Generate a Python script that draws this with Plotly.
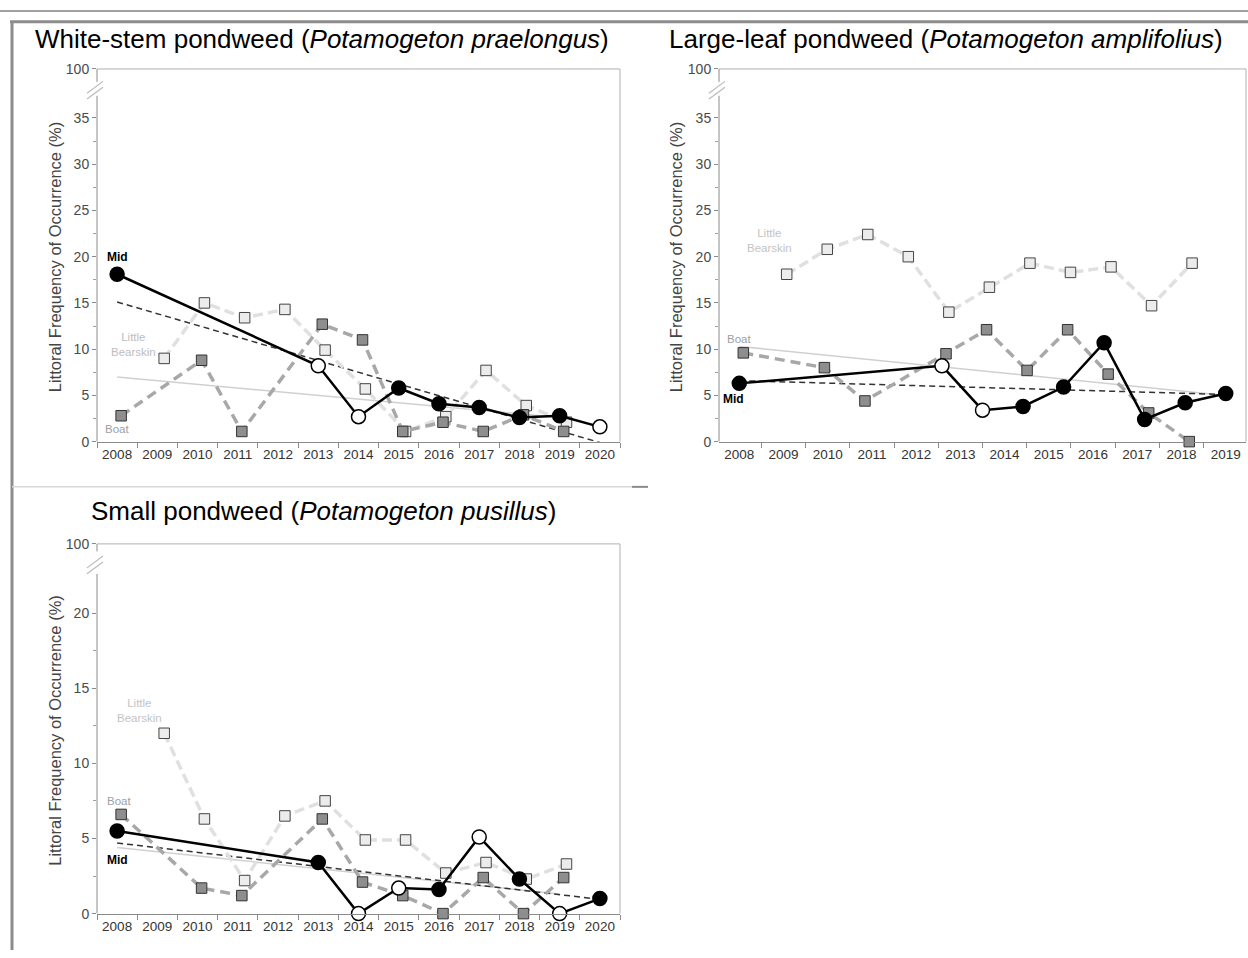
import plotly.graph_objects as go

FIG_W, FIG_H = 1248, 958

# ---------------- data ----------------
# Panel 1: White-stem pondweed
p1_mid_years = [2008, 2013, 2014, 2015, 2016, 2017, 2018, 2019, 2020]
p1_mid_vals = [18.1, 8.2, 2.7, 5.8, 4.1, 3.7, 2.6, 2.8, 1.6]
p1_mid_open = [False, True, True, False, False, False, False, False, True]
p1_boat_years = [2008, 2010, 2011, 2013, 2014, 2015, 2016, 2017, 2018, 2019]
p1_boat_vals = [2.8, 8.8, 1.1, 12.7, 11.0, 1.1, 2.1, 1.1, 2.9, 1.1]
p1_lb_years = [2009, 2010, 2011, 2012, 2013, 2014, 2015, 2016, 2017, 2018, 2019]
p1_lb_vals = [9.0, 15.0, 13.4, 14.3, 9.9, 5.7, 1.1, 2.7, 7.7, 3.9, 2.1]
p1_mid_trend_years = [2008, 2020]
p1_mid_trend_vals = [15.1, -0.1]
p1_lt_trend_years = [2008, 2019]
p1_lt_trend_vals = [7.0, 2.6]

# Panel 2: Large-leaf pondweed
p2_mid_years = [2008, 2013, 2014, 2015, 2016, 2017, 2018, 2019, 2020]
p2_mid_vals = [6.3, 8.2, 3.4, 3.8, 5.9, 10.7, 2.4, 4.2, 5.2]
p2_mid_open = [False, True, True, False, False, False, False, False, False]
p2_boat_years = [2008, 2010, 2011, 2013, 2014, 2015, 2016, 2017, 2018, 2019]
p2_boat_vals = [9.6, 8.0, 4.4, 9.5, 12.1, 7.7, 12.1, 7.3, 3.1, 0.0]
p2_lb_years = [2009, 2010, 2011, 2012, 2013, 2014, 2015, 2016, 2017, 2018, 2019]
p2_lb_vals = [18.1, 20.8, 22.4, 20.0, 14.0, 16.7, 19.3, 18.3, 18.9, 14.7, 19.3]
p2_mid_trend_years = [2008, 2020]
p2_mid_trend_vals = [6.6, 5.1]
p2_lt_trend_years = [2008, 2020]
p2_lt_trend_vals = [10.3, 5.0]

# Panel 3: Small pondweed
p3_mid_years = [2008, 2013, 2014, 2015, 2016, 2017, 2018, 2019, 2020]
p3_mid_vals = [5.5, 3.4, 0.0, 1.7, 1.6, 5.1, 2.3, 0.0, 1.0]
p3_mid_open = [False, False, True, True, False, True, False, True, False]
p3_boat_years = [2008, 2010, 2011, 2013, 2014, 2015, 2016, 2017, 2018, 2019]
p3_boat_vals = [6.6, 1.7, 1.2, 6.3, 2.1, 1.2, 0.0, 2.4, 0.0, 2.4]
p3_lb_years = [2009, 2010, 2011, 2012, 2013, 2014, 2015, 2016, 2017, 2018, 2019]
p3_lb_vals = [12.0, 6.3, 2.2, 6.5, 7.5, 4.9, 4.9, 2.7, 3.4, 2.3, 3.3]
p3_mid_trend_years = [2008, 2020]
p3_mid_trend_vals = [4.7, 0.95]
p3_lt_trend_years = [2008, 2019]
p3_lt_trend_vals = [4.4, 1.3]

# tick labels
labels_13 = [str(y) for y in range(2008, 2021)]   # panels 1 and 3
labels_12 = [str(y) for y in range(2008, 2020)]   # panel 2 (original figure shows 12 labels)

titles = [
    "White-stem pondweed (<i>Potamogeton praelongus</i>)",
    "Large-leaf pondweed (<i>Potamogeton amplifolius</i>)",
    "Small pondweed (<i>Potamogeton pusillus</i>)",
]
ytitle = "Littoral Frequency of Occurrence (%)"

FONT = "Arial, Liberation Sans, sans-serif"

def px(x):
    return x / FIG_W

def py(y):
    return 1 - y / FIG_H

fig = go.Figure()

panels = [
    dict(n="", xdom=(97, 620), ydom=(62, 441), ytop=40.3, ymaxtick=35, brk=38.0,
         xlabels=labels_13, title=titles[0], tcx=322, tcy=32, ytx=55,
         mid=(p1_mid_years, p1_mid_vals, p1_mid_open),
         boat=(p1_boat_years, p1_boat_vals), lb=(p1_lb_years, p1_lb_vals),
         mt=(p1_mid_trend_years, p1_mid_trend_vals), lt=(p1_lt_trend_years, p1_lt_trend_vals),
         ann=[("Mid", 2008.0, 20.0, "black", True), ("Little<br>Bearskin", 2008.4, 10.5, "#bdbdbd", False),
              ("Boat", 2008.0, 1.4, "#a0a0a0", False)]),
    dict(n="2", xdom=(719, 1246), ydom=(62, 441), ytop=40.3, ymaxtick=35, brk=38.0,
         xlabels=labels_12, title=titles[1], tcx=946, tcy=32, ytx=676,
         mid=(p2_mid_years, p2_mid_vals, p2_mid_open),
         boat=(p2_boat_years, p2_boat_vals), lb=(p2_lb_years, p2_lb_vals),
         mt=(p2_mid_trend_years, p2_mid_trend_vals), lt=(p2_lt_trend_years, p2_lt_trend_vals),
         ann=[("Little<br>Bearskin", 2008.75, 21.8, "#c4c4c4", False), ("Boat", 2008.0, 11.1, "#a0a0a0", False),
              ("Mid", 2007.85, 4.6, "black", True)]),
    dict(n="3", xdom=(97, 620), ydom=(545, 921), ytop=24.6, ymaxtick=20, brk=23.2,
         xlabels=labels_13, title=titles[2], tcx=323, tcy=512, ytx=55,
         mid=(p3_mid_years, p3_mid_vals, p3_mid_open),
         boat=(p3_boat_years, p3_boat_vals), lb=(p3_lb_years, p3_lb_vals),
         mt=(p3_mid_trend_years, p3_mid_trend_vals), lt=(p3_lt_trend_years, p3_lt_trend_vals),
         ann=[("Little<br>Bearskin", 2008.55, 13.5, "#c4c4c4", False), ("Boat", 2008.05, 7.5, "#a0a0a0", False),
              ("Mid", 2008.0, 3.6, "black", True)]),
]

BOAT_DX = 0.1
LB_DX = 0.17

shapes = []
annotations = []

for p in panels:
    n = p["n"]
    xa = "x" + n
    ya = "y" + n
    nlab = len(p["xlabels"])
    # label positions spread evenly from 2008 to 2020
    step = 12.0 / (nlab - 1)
    tickvals = [2008 + k * step for k in range(nlab)]
    minor_vals = [2008 + (k + 0.5) * step for k in range(-1, nlab)]

    common = dict(xaxis=xa, yaxis=ya, cliponaxis=False, showlegend=False, hoverinfo="skip")
    # trend lines
    fig.add_trace(go.Scatter(x=p["lt"][0], y=p["lt"][1], mode="lines",
                             line=dict(color="#d0d0d0", width=1.5), **common))
    fig.add_trace(go.Scatter(x=p["mt"][0], y=p["mt"][1], mode="lines",
                             line=dict(color="#333333", width=1.5, dash="6px,4px"), **common))
    # Little Bearskin
    fig.add_trace(go.Scatter(x=[v + LB_DX for v in p["lb"][0]], y=p["lb"][1], mode="lines+markers",
                             line=dict(color="#e0e0e0", width=3.5, dash="10px,5px"),
                             marker=dict(symbol="square", size=10.5, color="#ececec",
                                         line=dict(color="#444444", width=1)), **common))
    # Boat
    fig.add_trace(go.Scatter(x=[v + BOAT_DX for v in p["boat"][0]], y=p["boat"][1], mode="lines+markers",
                             line=dict(color="#a8a8a8", width=3.5, dash="10px,6px"),
                             marker=dict(symbol="square", size=10.5, color="#8e8e8e",
                                         line=dict(color="#333333", width=1)), **common))
    # Mid
    my, mv, mo = p["mid"]
    fig.add_trace(go.Scatter(x=my, y=mv, mode="lines+markers",
                             line=dict(color="black", width=2.5),
                             marker=dict(symbol="circle", size=14,
                                         color=["white" if o else "black" for o in mo],
                                         line=dict(color="black", width=1.5)), **common))

    x0, x1 = p["xdom"]
    yt, yb = p["ydom"]
    yticks = list(range(0, p["ymaxtick"] + 1, 5)) + [p["ytop"]]
    ytext = [str(v) for v in range(0, p["ymaxtick"] + 1, 5)] + ["100"]
    minor_y = [v + 2.5 for v in range(0, p["ymaxtick"], 5)]

    fig.layout["xaxis" + n] = dict(
        domain=[px(x0), px(x1)], anchor=ya, range=[2007.5, 2020.5],
        tickvals=tickvals, ticktext=p["xlabels"], ticks="", ticklen=0,
        showline=True, linecolor="#8a8a8a", linewidth=1, showgrid=False, zeroline=False,
        tickfont=dict(family=FONT, size=13.5, color="#333333"),
        minor=dict(tickvals=minor_vals, ticks="outside", ticklen=5, tickcolor="#8a8a8a", tickwidth=1),
        fixedrange=True,
    )
    fig.layout["yaxis" + n] = dict(
        domain=[py(yb), py(yt)], anchor=xa, range=[0, p["ytop"]],
        tickvals=yticks, ticktext=ytext, ticks="outside", ticklen=4, tickcolor="#8a8a8a",
        showline=False, showgrid=False, zeroline=False,
        tickfont=dict(family=FONT, size=14, color="#4a4a4a"),
        minor=dict(tickvals=minor_y, ticks="outside", ticklen=3, tickcolor="#a0a0a0"),
        fixedrange=True,
    )

    # frame: top and right
    shapes.append(dict(type="line", xref="paper", yref="paper", x0=px(x0), x1=px(x1), y0=py(yt), y1=py(yt),
                       line=dict(color="#b0b0b0", width=1)))
    shapes.append(dict(type="line", xref="paper", yref="paper", x0=px(x1), x1=px(x1), y0=py(yt), y1=py(yb),
                       line=dict(color="#b0b0b0", width=1)))
    # left axis with break
    shapes.append(dict(type="line", xref=xa + " domain", yref=ya, x0=0, x1=0, y0=0, y1=p["brk"] - 0.6,
                       line=dict(color="#8a8a8a", width=1)))
    shapes.append(dict(type="line", xref=xa + " domain", yref=ya, x0=0, x1=0, y0=p["brk"] + 0.9, y1=p["ytop"],
                       line=dict(color="#8a8a8a", width=1)))
    # break marks "//"
    ppu = (yb - yt) / p["ytop"]
    ybrk = yb - p["brk"] * ppu
    for d in (-3, 3):
        shapes.append(dict(type="line", xref="paper", yref="paper",
                           x0=px(x0 - 10), y0=py(ybrk + 6 + d), x1=px(x0 + 6), y1=py(ybrk - 6 + d),
                           line=dict(color="#bbbbbb", width=1.2)))

    # titles
    annotations.append(dict(text=p["title"], xref="paper", yref="paper", x=px(p["tcx"]), y=py(p["tcy"]),
                            xanchor="center", yanchor="middle", showarrow=False,
                            font=dict(family=FONT, size=26, color="black")))
    annotations.append(dict(text=ytitle, xref="paper", yref="paper", x=px(p["ytx"]), y=py((yt + yb) / 2 + 2),
                            xanchor="center", yanchor="middle", textangle=-90, showarrow=False,
                            font=dict(family=FONT, size=16.5, color="#444444")))
    for txt, ax, ay, col, bold in p["ann"]:
        annotations.append(dict(text=("<b>%s</b>" % txt) if bold else txt, xref=xa, yref=ya, x=ax, y=ay,
                                xanchor="center", yanchor="middle", showarrow=False, align="center",
                                font=dict(family=FONT, size=11.5 if not bold else 12, color=col)))

# page decoration lines
shapes += [
    dict(type="line", xref="paper", yref="paper", x0=0, x1=1, y0=py(3), y1=py(3),
         line=dict(color="#a0a0a0", width=2)),
    dict(type="line", xref="paper", yref="paper", x0=px(10), x1=1, y0=py(14), y1=py(14),
         line=dict(color="#8c8c8c", width=3)),
    dict(type="line", xref="paper", yref="paper", x0=px(12), x1=px(12), y0=py(14), y1=0,
         line=dict(color="#8c8c8c", width=3)),
    dict(type="line", xref="paper", yref="paper", x0=px(12), x1=px(632), y0=py(487), y1=py(487),
         line=dict(color="#d8d8d8", width=1.5)),
    dict(type="line", xref="paper", yref="paper", x0=px(632), x1=px(648), y0=py(487), y1=py(487),
         line=dict(color="#8c8c8c", width=2)),
]

fig.update_layout(
    width=FIG_W, height=FIG_H, margin=dict(l=0, r=0, t=0, b=0),
    paper_bgcolor="white", plot_bgcolor="white",
    shapes=shapes, annotations=annotations, showlegend=False,
)

fig.write_html("out.html")
